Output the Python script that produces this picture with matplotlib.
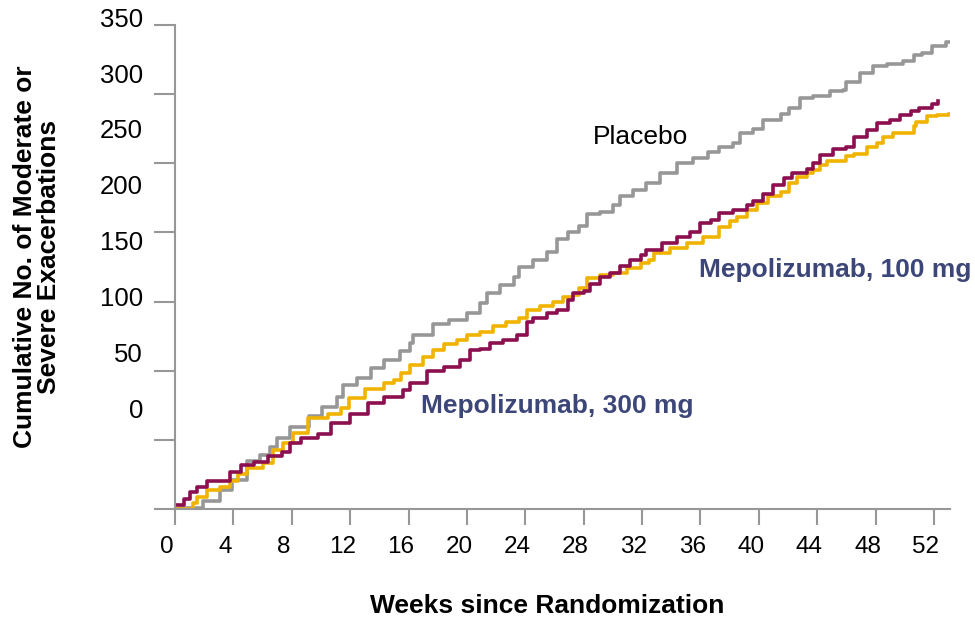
import matplotlib.pyplot as plt
from matplotlib.transforms import ScaledTranslation

plt.rcParams['font.family'] = ['Liberation Sans', 'DejaVu Sans']

# cumulative events (week, count)
placebo_wk = [0, 0.3, 1.9, 3.1, 3.9, 4.9, 5.8, 6.5, 7.0, 7.9, 9.2, 10.1, 11.1, 11.5, 12.5, 13.4,
              14.3, 15.4, 16.1, 16.3, 17.7, 18.8, 20.0, 20.9, 21.4, 22.3, 23.2, 23.6, 24.5, 25.5,
              26.2, 26.9, 27.7, 28.2, 29.1, 30.0, 30.5, 31.4, 32.3, 33.2, 34.4, 35.5, 36.5, 37.3,
              38.2, 38.7, 39.6, 40.3, 41.5, 42.1, 42.8, 43.7, 44.9, 45.8, 46.0, 46.9, 47.8, 48.8,
              49.9, 50.6, 51.2, 51.9, 52.8, 53.1]
placebo_n = [0, 1, 6, 14, 21, 35, 39, 45, 51, 59, 67, 74, 81, 90, 95, 102,
             108, 114, 120, 126, 134, 137, 142, 149, 156, 162, 168, 175, 180, 186,
             195, 200, 205, 213, 215, 220, 226, 231, 236, 243, 250, 254, 258, 262,
             265, 272, 275, 281, 286, 290, 297, 299, 302, 303, 309, 315, 320, 322,
             324, 328, 330, 335, 338, 338]

mep100_wk = [0, 1.2, 1.5, 2.2, 3.1, 3.8, 4.3, 4.9, 6.0, 6.7, 7.4, 8.1, 9.1, 10.5, 11.4, 11.9,
             13.0, 14.3, 15.0, 15.5, 16.1, 17.0, 17.7, 18.4, 19.3, 20.0, 20.9, 21.8, 22.7, 23.6,
             24.1, 25.0, 25.9, 26.6, 27.3, 27.7, 28.2, 29.1, 30.0, 31.0, 31.9, 32.5, 32.8, 33.9,
             35.1, 36.2, 37.3, 38.0, 38.5, 39.2, 39.9, 40.6, 41.5, 42.1, 42.6, 43.3, 43.7, 44.2,
             44.7, 46.0, 46.5, 47.4, 48.1, 48.5, 49.2, 50.6, 50.8, 51.5, 52.2, 53.0]
mep100_n = [0, 4, 9, 14, 16, 20, 25, 30, 33, 43, 48, 55, 66, 69, 73, 80,
            87, 91, 93, 98, 104, 110, 115, 119, 122, 126, 128, 132, 135, 138,
            144, 147, 150, 153, 155, 160, 167, 169, 171, 174, 178, 180, 185, 189,
            192, 197, 204, 208, 211, 216, 221, 226, 229, 236, 240, 243, 245, 249,
            252, 255, 257, 262, 265, 269, 272, 277, 280, 284, 285, 286]

mep300_wk = [0, 0.6, 1.0, 1.5, 2.2, 3.4, 3.8, 4.5, 5.4, 6.4, 7.3, 7.9, 8.6, 9.8, 10.7, 12.0,
             13.2, 14.3, 15.6, 16.1, 17.3, 18.4, 19.5, 20.2, 20.9, 21.6, 22.5, 23.4, 24.1, 24.5,
             25.5, 26.2, 26.9, 27.3, 28.0, 28.4, 29.1, 29.8, 30.5, 31.2, 31.9, 32.3, 33.4, 34.4,
             35.3, 36.0, 36.7, 37.3, 38.2, 39.2, 39.6, 40.3, 41.0, 41.7, 42.3, 43.3, 43.7, 44.2,
             45.1, 46.0, 46.5, 47.4, 48.1, 49.0, 49.7, 50.4, 51.0, 51.9, 52.3]
mep300_n = [3, 7, 12, 16, 20, 20, 27, 32, 34, 38, 41, 48, 51, 54, 62, 69,
            77, 81, 86, 91, 100, 103, 108, 115, 116, 120, 122, 126, 135, 138,
            142, 144, 151, 156, 158, 163, 168, 171, 176, 180, 184, 187, 192, 197,
            200, 207, 209, 214, 216, 220, 223, 228, 234, 239, 243, 246, 250, 256,
            260, 262, 269, 274, 279, 281, 285, 288, 290, 293, 295]

x_ticks = list(range(0, 53, 4))
y_ticks = [0, 50, 100, 150, 200, 250, 300, 350]
y_tick_labels = ['0', '50', '100', '150', '200', '250', '300', '350']

gray = '#979797'
navy = '#3c4678'

fig = plt.figure(figsize=(9.75, 6.23), dpi=100)
ax = fig.add_axes([175 / 975, 114 / 623, 775 / 975, 484 / 623])

ax.plot(placebo_wk, placebo_n, drawstyle='steps-post', color=gray, lw=2.6)
ax.plot(mep100_wk, mep100_n, drawstyle='steps-post', color='#f0b400', lw=2.6)
ax.plot(mep300_wk, mep300_n, drawstyle='steps-post', color='#8c0f50', lw=2.6)

ax.set_xlim(0, 53.1)
ax.set_ylim(0, 350)
for s in ['top', 'right']:
    ax.spines[s].set_visible(False)
for s in ['left', 'bottom']:
    ax.spines[s].set_color(gray)
    ax.spines[s].set_linewidth(1.5)

ax.set_xticks(x_ticks)
ax.set_yticks(y_ticks)
ax.set_yticklabels([])
ax.tick_params(axis='x', length=11.5, width=1.5, color=gray, labelsize=17.5, pad=8)
ax.tick_params(axis='y', length=15, width=1.5, color=gray)
shift = ScaledTranslation(-8 / 100, 0, fig.dpi_scale_trans)
for lab in ax.get_xticklabels():
    lab.set_transform(lab.get_transform() + shift)

# the y labels in the original sit off their ticks, evenly spaced
for i, t in enumerate(y_tick_labels):
    ax.text(-32 / 775, (98 + 55.9 * i) / 484, t, transform=ax.transAxes,
            ha='right', va='center', fontsize=18.5)

fig.text(37 / 975, (623 - 257) / 623, 'Cumulative No. of Moderate or\nSevere Exacerbations',
         rotation=90, ha='center', va='center', fontsize=19, fontweight='bold',
         linespacing=0.95)
fig.text(547 / 975, (623 - 606) / 623, 'Weeks since Randomization',
         ha='center', va='center', fontsize=19, fontweight='bold')

fig.text(593 / 975, (623 - 137) / 623, 'Placebo', ha='left', va='center', fontsize=19)
fig.text(699 / 975, (623 - 270) / 623, 'Mepolizumab, 100 mg', ha='left', va='center',
         fontsize=19, fontweight='bold', color=navy)
fig.text(421 / 975, (623 - 406) / 623, 'Mepolizumab, 300 mg', ha='left', va='center',
         fontsize=19, fontweight='bold', color=navy)

fig.savefig('out.png', dpi=100)
